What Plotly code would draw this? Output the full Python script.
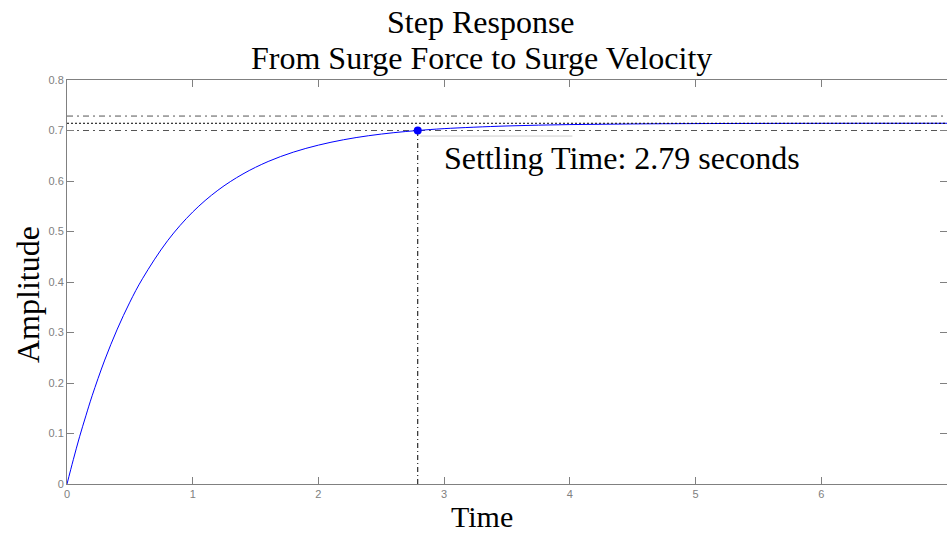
import plotly.graph_objects as go

# Step response samples
t_vals = [0, 0.05, 0.1, 0.15, 0.2, 0.3, 0.4, 0.5, 0.6, 0.8, 1.0, 1.2, 1.4, 1.6, 1.8,
          2.0, 2.2, 2.4, 2.6, 2.79, 3.0, 3.5, 4.0, 4.5, 5.0, 6.0, 7.0]
y_vals = [0, 0.048, 0.0935, 0.135, 0.1747, 0.2454, 0.3067, 0.3601, 0.4064, 0.4817,
          0.5386, 0.5816, 0.614, 0.6386, 0.6571, 0.671, 0.6817, 0.6897, 0.6957, 0.700,
          0.7037, 0.709, 0.7117, 0.713, 0.7137, 0.7142, 0.7143]

final_value = 0.7143
upper_band = 0.7286
lower_band = 0.700
settle_t = 2.79
settle_y = 0.700
datatip_y = 0.689
datatip_x_end = 4.02

x_ticks = [0, 1, 2, 3, 4, 5, 6]
y_ticks = [0, 0.1, 0.2, 0.3, 0.4, 0.5, 0.6, 0.7, 0.8]
x_range = [0, 7]
y_range = [0, 0.8]

title_lines = ["Step Response", "From Surge Force to Surge Velocity"]

SERIF = "Liberation Serif"
BIG = 32
PLOT_TOP, PLOT_BOTTOM, PLOT_LEFT, PLOT_W = 80, 484, 67, 880
PLOT_H = PLOT_BOTTOM - PLOT_TOP

fig = go.Figure()

# reference lines
for yv in [upper_band, lower_band]:
    fig.add_trace(go.Scatter(x=x_range, y=[yv, yv], mode="lines",
                             line=dict(color="#555555", width=1, dash="6px,4px,2px,4px"),
                             hoverinfo="skip", showlegend=False))

fig.add_trace(go.Scatter(x=t_vals, y=y_vals, mode="lines",
                         line=dict(color="#0000ff", width=1, shape="spline"),
                         showlegend=False))

fig.add_trace(go.Scatter(x=x_range, y=[final_value, final_value], mode="lines",
                         line=dict(color="#000000", width=1, dash="2px,2px"),
                         hoverinfo="skip", showlegend=False))

fig.add_trace(go.Scatter(x=[settle_t, settle_t], y=[0, settle_y], mode="lines",
                         line=dict(color="#000000", width=1, dash="5px,3px,1px,3px"),
                         hoverinfo="skip", showlegend=False))

fig.add_trace(go.Scatter(x=[settle_t + 0.02, datatip_x_end], y=[datatip_y, datatip_y], mode="lines",
                         line=dict(color="#cccccc", width=1),
                         hoverinfo="skip", showlegend=False))

fig.add_trace(go.Scatter(x=[settle_t], y=[settle_y], mode="markers",
                         marker=dict(color="#0000ff", size=8),
                         showlegend=False))

fig.add_annotation(x=2.98, y=0.645, xref="x", yref="y", xanchor="left", yanchor="middle",
                   text="Settling Time: 2.79 seconds", showarrow=False,
                   font=dict(family=SERIF, size=BIG, color="#000000"))

# title lines (pixel centres ~22 and ~58 from the top)
for line, cy in zip(title_lines, [22, 58]):
    fig.add_annotation(x=(481 - PLOT_LEFT) / PLOT_W, y=(PLOT_BOTTOM - cy) / PLOT_H,
                       xref="paper", yref="paper",
                       xanchor="center", yanchor="middle",
                       text=line, showarrow=False,
                       font=dict(family=SERIF, size=BIG, color="#000000"))

# axis titles
fig.add_annotation(x=(482 - PLOT_LEFT) / PLOT_W, y=0, xref="paper", yref="paper",
                   xanchor="center", yanchor="middle", yshift=-32,
                   text="Time", showarrow=False,
                   font=dict(family=SERIF, size=30, color="#000000"))
fig.add_annotation(x=0, y=(PLOT_BOTTOM - 295) / PLOT_H, xref="paper", yref="paper",
                   xanchor="center", yanchor="middle", xshift=-39, textangle=-90,
                   text="Amplitude", showarrow=False,
                   font=dict(family=SERIF, size=BIG, color="#000000"))

axis_common = dict(showgrid=False, zeroline=False, showline=True, linecolor="#808080",
                   linewidth=1, mirror="ticks", ticks="inside", ticklen=7, tickcolor="#808080",
                   tickfont=dict(family="Liberation Sans", size=11, color="#808080"))

fig.update_layout(
    width=947, height=533,
    margin=dict(l=PLOT_LEFT, r=0, t=PLOT_TOP, b=533 - PLOT_BOTTOM),
    plot_bgcolor="white", paper_bgcolor="white",
    xaxis=dict(range=x_range, tickvals=x_ticks, ticktext=[str(v) for v in x_ticks],
               **axis_common),
    yaxis=dict(range=y_range, tickvals=y_ticks,
               ticktext=["0" if v == 0 else f"{v:.1f}" for v in y_ticks],
               **axis_common),
)

fig.write_html("out.html")
